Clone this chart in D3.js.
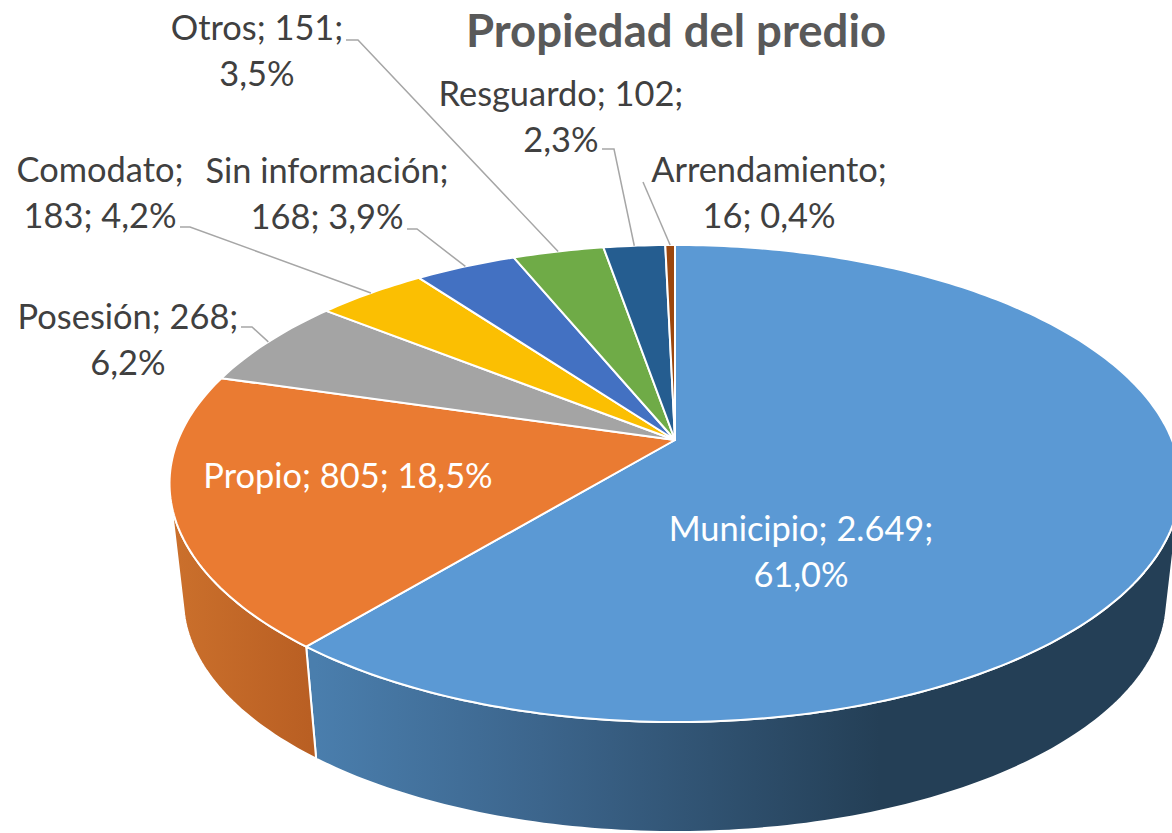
<!DOCTYPE html>
<html>
	<head>
		<meta http-equiv='Content-Type' content='text/html;charset=utf-8'/>
		<title>Propiedad del predio</title>
		<script src='https://d3js.org/d3.v7.min.js'></script>
		<style>
			html, body { margin: 0; padding: 0; background: #ffffff; overflow: hidden; }
			text { font-family: Lato, 'Open Sans', sans-serif; }
		</style>
	</head>

	<body>
		<script>
		'use strict'
		const titleText = 'Propiedad del predio'
		const categories = ['Municipio', 'Propio', 'Posesión', 'Comodato', 'Sin información', 'Otros', 'Resguardo', 'Arrendamiento']
		const values = [2649, 805, 268, 183, 168, 151, 102, 16]
		const valueLabels = ['2.649', '805', '268', '183', '168', '151', '102', '16']
		const percentLabels = ['61,0%', '18,5%', '6,2%', '4,2%', '3,9%', '3,5%', '2,3%', '0,4%']
		const colors = ['#5b99d4', '#ea7b32', '#a4a4a4', '#fbbf02', '#4371c2', '#6fab47', '#255d90', '#9c470e']

		const width = 1172
		const height = 833

		// label layout: how each label wraps, its centre and its first baseline
		const labelCuts = [2, 3, 2, 1, 1, 2, 2, 1]
		const labelX = [801, 348, 128, 100, 327, 257, 561, 769]
		const labelY = [541, 488, 329, 182, 183, 40, 106, 182]
		const labelFill = ['#ffffff', '#ffffff', '#404040', '#404040', '#404040', '#404040', '#404040', '#404040']

		// leader lines: the elbow beside the label, null = no leader
		const leaderFrom = [null, null, [241, 327], [180, 227], [407, 229], [346, 40], [602, 149], [643, 182]]
		const leaderElbow = [null, null, [252, 327], [190, 227], [417, 229], [358, 40], [614, 149], null]

		// perspective of the pie plane
		const cx = 675
		const cy = 440
		const ax = 497
		const ay = 230.6
		const tilt = 0.1824
		// the bottom rim is the top rim shrunk towards a far vanishing point
		const vanishY = 4796
		const shrink = 0.973

		const svg = d3.select('body').append('svg')
			.attr('width', width)
			.attr('height', height)

		svg.append('rect')
			.attr('width', '100%')
			.attr('height', '100%')
			.attr('fill', '#ffffff')

		const arcs = d3.pie().sort(null).value(function(d) { return d })(values)
		const line = d3.line()

		/**
		 * rim
		 * Project a pie angle (clockwise from top) onto the screen.
		 * @param {Number} angle in radians
		 * @returns {Array} [x, y]
		 */
		function rim(angle)
		{
			const u = Math.sin(angle)
			const v = -Math.cos(angle)
			const w = 1 - tilt * v
			return [cx + ax * u / w, cy + ay * v / w]
		}

		function lower(p)
		{
			return [cx + (p[0] - cx) * shrink, vanishY + (p[1] - vanishY) * shrink]
		}

		function sweep(a)
		{
			const n = Math.max(2, Math.ceil((a.endAngle - a.startAngle) * 60))
			return d3.range(n + 1).map(function(i) {
				return a.startAngle + (a.endAngle - a.startAngle) * i / n
			})
		}

		/**
		 * facesViewer
		 * True where the outer wall at this angle is on the near side of the silhouette.
		 */
		function facesViewer(angle)
		{
			const p = rim(angle)
			const q = rim(angle + 0.001)
			const q0 = lower(p)
			return (q[0] - p[0]) * (q0[1] - p[1]) - (q[1] - p[1]) * (q0[0] - p[0]) < 0
		}

		const defs = svg.append('defs')

		function gradient(id, x1, x2, stops)
		{
			const g = defs.append('linearGradient')
				.attr('id', id)
				.attr('gradientUnits', 'userSpaceOnUse')
				.attr('x1', x1).attr('x2', x2)
				.attr('y1', 0).attr('y2', 0)
			stops.forEach(function(s) {
				g.append('stop').attr('offset', s[0]).attr('stop-color', s[1])
			})
		}

		gradient('side0', 315, 880, [[0, '#4a7ead'], [0.4, '#3c658c'], [1, '#243f56']])
		gradient('side1', 172, 310, [[0, '#cb702c'], [1, '#b95f23']])

		function sideFill(i)
		{
			if (i < 2) return 'url(#side' + i + ')'
			return d3.color(colors[i]).darker(0.9).formatHex()
		}

		// walls first, only the near part of each rim so the polygon never folds
		svg.append('g').selectAll('path')
			.data(arcs.filter(function(d) { return sweep(d).filter(facesViewer).length > 1 }))
			.join('path')
			.attr('d', function(d) {
				const top = sweep(d).filter(facesViewer).map(rim)
				return line(top.concat(top.slice().reverse().map(lower))) + 'Z'
			})
			.attr('fill', function(d) { return sideFill(d.index) })
			.attr('stroke', '#ffffff')
			.attr('stroke-width', 2)
			.attr('stroke-linejoin', 'round')

		svg.append('g').selectAll('path')
			.data(arcs)
			.join('path')
			.attr('d', function(d) { return line([[cx, cy]].concat(sweep(d).map(rim))) + 'Z' })
			.attr('fill', function(d) { return colors[d.index] })
			.attr('stroke', '#ffffff')
			.attr('stroke-width', 2)
			.attr('stroke-linejoin', 'round')

		svg.append('g').selectAll('path')
			.data(arcs.filter(function(d) { return leaderFrom[d.index] !== null }))
			.join('path')
			.attr('d', function(d) {
				const i = d.index
				const end = rim((d.startAngle + d.endAngle) / 2)
				const pts = leaderElbow[i] ? [leaderFrom[i], leaderElbow[i], end] : [leaderFrom[i], end]
				return line(pts)
			})
			.attr('fill', 'none')
			.attr('stroke', '#a6a6a6')
			.attr('stroke-width', 1.5)

		svg.append('text')
			.attr('x', 676)
			.attr('y', 47)
			.attr('text-anchor', 'middle')
			.attr('font-size', 45.5)
			.attr('font-weight', 700)
			.attr('fill', '#595959')
			.text(titleText)

		const labels = svg.append('g').selectAll('text')
			.data(categories)
			.join('text')
			.attr('text-anchor', 'middle')
			.attr('font-size', 34.4)
			.attr('fill', function(d, i) { return labelFill[i] })

		labels.each(function(d, i) {
			const parts = [d + ';', valueLabels[i] + ';', percentLabels[i]]
			const rows = [parts.slice(0, labelCuts[i]).join(' '), parts.slice(labelCuts[i]).join(' ')]
			d3.select(this).selectAll('tspan')
				.data(rows.filter(function(r) { return r !== '' }))
				.join('tspan')
				.attr('x', labelX[i])
				.attr('y', function(r, k) { return labelY[i] + k * 45.5 })
				.text(function(r) { return r })
		})
		</script>
	</body>
</html>
